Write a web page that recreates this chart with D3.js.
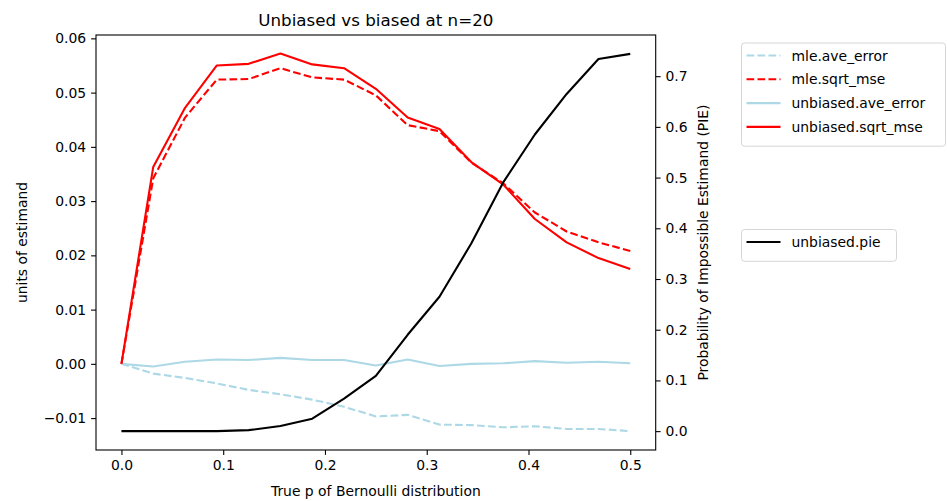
<!doctype html>
<html lang="en">
<head>
    <meta charset="utf-8"/>
    <title>Unbiased vs biased at n=20</title>
    <style>
        body { margin: 0; background: #fff; }
        text { font-family: "DejaVu Sans", sans-serif; fill: #000; }
        .tick text { font-size: 13.9px; }
        .tick line { stroke: #000; stroke-width: 1.1; }
        .domain { display: none; }
    </style>
    <script src="https://d3js.org/d3.v7.min.js"></script>
</head>
<body>
<svg width="947" height="501"></svg>
<script>

    // true p values, step 1/32
    var pValues = d3.range(17).map(function(i) { return i / 32; });

    var mleAveError = [0, -0.0018, -0.0026, -0.0036, -0.0048, -0.0056, -0.0066, -0.0079, -0.0097,
                       -0.0094, -0.0112, -0.0113, -0.0117, -0.0115, -0.0120, -0.0120, -0.0124];
    var mleSqrtMse = [0, 0.0342, 0.0454, 0.0524, 0.0525, 0.0545, 0.0528, 0.0524, 0.0495,
                      0.0440, 0.0429, 0.0371, 0.0333, 0.0279, 0.0244, 0.0224, 0.0208];
    var unbiasedAveError = [0, -0.0005, 0.0004, 0.0008, 0.0007, 0.0011, 0.0007, 0.0007, -0.0003,
                            0.0008, -0.0004, 0.0000, 0.0001, 0.0005, 0.0002, 0.0004, 0.0001];
    var unbiasedSqrtMse = [0, 0.0363, 0.0472, 0.0550, 0.0553, 0.0572, 0.0552, 0.0545, 0.0507,
                           0.0454, 0.0433, 0.0372, 0.0331, 0.0267, 0.0224, 0.0195, 0.0175];
    var unbiasedPie = [0, 0, 0, 0, 0.002, 0.010, 0.0245, 0.064, 0.109,
                       0.19, 0.265, 0.37, 0.49, 0.585, 0.665, 0.734, 0.744];

    var xTicks = [0, 0.1, 0.2, 0.3, 0.4, 0.5];
    var leftTicks = [-0.01, 0, 0.01, 0.02, 0.03, 0.04, 0.05, 0.06];
    var rightTicks = [0, 0.1, 0.2, 0.3, 0.4, 0.5, 0.6, 0.7];

    var svg = d3.select("svg");
    var plotLeft = 96, plotRight = 655.7, plotTop = 35, plotBottom = 450;

    var x = d3.scaleLinear().domain([-0.025, 0.525]).range([plotLeft, plotRight]);
    var y = d3.scaleLinear().domain([-0.01588, 0.06062]).range([plotBottom, plotTop]);
    var y2 = d3.scaleLinear().domain([-0.0372, 0.7812]).range([plotBottom, plotTop]);

    var leftSeries = [
        { name: "mle.ave_error", values: mleAveError, color: "#add8e6", dash: "7.7,3.3" },
        { name: "mle.sqrt_mse", values: mleSqrtMse, color: "red", dash: "7.7,3.3" },
        { name: "unbiased.ave_error", values: unbiasedAveError, color: "#add8e6", dash: null },
        { name: "unbiased.sqrt_mse", values: unbiasedSqrtMse, color: "red", dash: null }
    ];
    var rightSeries = [
        { name: "unbiased.pie", values: unbiasedPie, color: "black", dash: null }
    ];

    // axes
    svg.append("g")
       .attr("transform", "translate(0," + plotBottom + ")")
       .call(d3.axisBottom(x).tickValues(xTicks).tickFormat(d3.format(".1f")).tickSize(4.9).tickPadding(4.9));

    svg.append("g")
       .attr("transform", "translate(" + plotLeft + ",0)")
       .call(d3.axisLeft(y).tickValues(leftTicks).tickFormat(function(d) {
           return d3.format(".2f")(d).replace("-", "\u2212");
       }).tickSize(4.9).tickPadding(4.9));

    svg.append("g")
       .attr("transform", "translate(" + plotRight + ",0)")
       .call(d3.axisRight(y2).tickValues(rightTicks).tickFormat(d3.format(".1f")).tickSize(4.9).tickPadding(4.9));

    svg.append("clipPath").attr("id", "plot")
       .append("rect").attr("x", plotLeft).attr("y", plotTop)
       .attr("width", plotRight - plotLeft).attr("height", plotBottom - plotTop);

    var plot = svg.append("g").attr("clip-path", "url(#plot)");

    function drawSeries(s, scale) {
        var line = d3.line()
            .x(function(d, i) { return x(pValues[i]); })
            .y(function(d) { return scale(d); });
        plot.append("path")
            .datum(s.values)
            .attr("fill", "none")
            .attr("stroke", s.color)
            .attr("stroke-width", 2.1)
            .attr("stroke-dasharray", s.dash)
            .attr("stroke-linejoin", "round")
            .attr("d", line);
    }

    leftSeries.forEach(function(s) { drawSeries(s, y); });
    rightSeries.forEach(function(s) { drawSeries(s, y2); });

    // frame
    svg.append("rect")
       .attr("x", plotLeft).attr("y", plotTop)
       .attr("width", plotRight - plotLeft).attr("height", plotBottom - plotTop)
       .attr("fill", "none").attr("stroke", "#000").attr("stroke-width", 1.1);

    // titles
    svg.append("text")
       .attr("x", (plotLeft + plotRight) / 2).attr("y", 26)
       .attr("text-anchor", "middle").attr("font-size", "16.7px")
       .text("Unbiased vs biased at n=20");

    svg.append("text")
       .attr("x", (plotLeft + plotRight) / 2).attr("y", 496)
       .attr("text-anchor", "middle").attr("font-size", "13.9px")
       .text("True p of Bernoulli distribution");

    svg.append("text")
       .attr("transform", "translate(27," + (plotTop + plotBottom) / 2 + ") rotate(-90)")
       .attr("text-anchor", "middle").attr("font-size", "13.9px")
       .text("units of estimand");

    svg.append("text")
       .attr("transform", "translate(708," + (plotTop + plotBottom) / 2 + ") rotate(-90)")
       .attr("text-anchor", "middle").attr("font-size", "13.9px")
       .text("Probability of Impossible Estimand (PIE)");

    // legends
    function drawLegend(series, lx, ly, w) {
        var rowH = 23.8;
        var g = svg.append("g").attr("transform", "translate(" + lx + "," + ly + ")");
        g.append("rect")
         .attr("width", w).attr("height", series.length * rowH + 8)
         .attr("rx", 3).attr("fill", "#fff").attr("fill-opacity", 0.8)
         .attr("stroke", "#d6d6d6").attr("stroke-width", 1);
        series.forEach(function(s, i) {
            var cy = 12.5 + i * rowH;
            g.append("line")
             .attr("x1", 5).attr("x2", 39).attr("y1", cy).attr("y2", cy)
             .attr("stroke", s.color).attr("stroke-width", 2.1)
             .attr("stroke-dasharray", s.dash);
            g.append("text")
             .attr("x", 50).attr("y", cy + 5)
             .attr("font-size", "13.9px")
             .text(s.name);
        });
    }

    drawLegend(leftSeries, 741.5, 43, 204);
    drawLegend(rightSeries, 741.5, 229.5, 155);

</script>
</body>
</html>
